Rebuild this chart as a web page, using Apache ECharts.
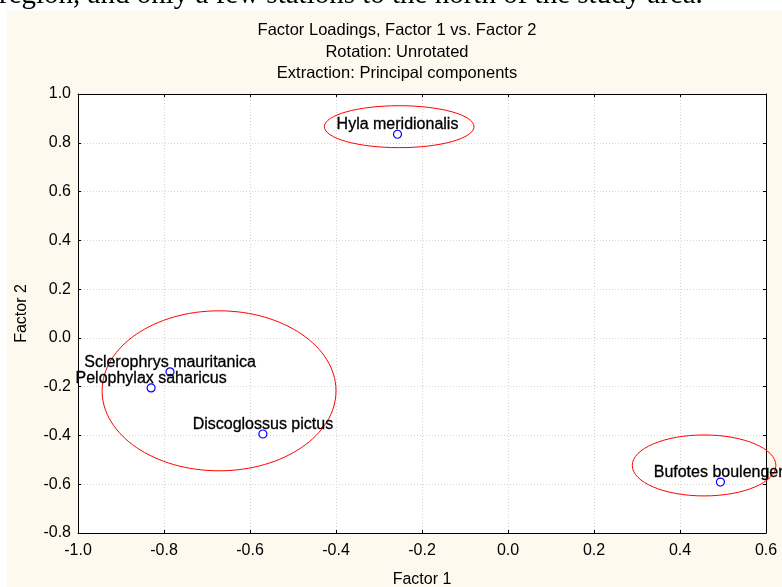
<!DOCTYPE html>
<html><head><meta charset="utf-8">
<script src="https://cdn.jsdelivr.net/npm/echarts@6/dist/echarts.min.js"></script>
<style>
html,body{margin:0;padding:0;background:#fff;}
#wrap{position:relative;width:782px;height:587px;overflow:hidden;}
#bg{position:absolute;left:7px;top:11px;width:775px;height:576px;background:#fdf9ef;}
#c{position:absolute;left:0;top:0;width:782px;height:587px;}
</style>
</head><body>
<div id="wrap"><div id="bg"></div><div id="c"></div></div>
<script>
const speciesNames = ['Hyla meridionalis', 'Sclerophrys mauritanica', 'Pelophylax saharicus', 'Discoglossus pictus', 'Bufotes boulengeri'];
const factor1 = [-0.257, -0.786, -0.830, -0.570, 0.494];
const factor2 = [0.835, -0.139, -0.205, -0.394, -0.591];

const ellipseCx = [-0.253, -0.672, 0.456];
const ellipseCy = [0.866, -0.217, -0.523];
const ellipseRx = [0.174, 0.272, 0.167];
const ellipseRy = [0.086, 0.328, 0.125];

const titleLines = ['Factor Loadings, Factor 1 vs. Factor 2', 'Rotation: Unrotated', 'Extraction: Principal components'];
const xAxisTitle = 'Factor 1';
const yAxisTitle = 'Factor 2';
const captionText = 'region, and only a few stations to the north of the study area.';

const FONT = '"Liberation Sans", Arial, sans-serif';
const chart = echarts.init(document.getElementById('c'), null, {renderer: 'canvas'});

const fmt = v => v.toFixed(1);
const axisCommon = {
  type: 'value',
  axisLine: {show: true, onZero: false, lineStyle: {color: '#000', width: 1}},
  axisTick: {show: true, inside: true, length: 3, lineStyle: {color: '#000'}}
};

chart.setOption({
  animation: false,
  backgroundColor: 'transparent',
  title: {
    text: titleLines.join('\n'),
    left: 392, top: 15, textAlign: 'center',
    textStyle: {fontFamily: FONT, fontSize: 16.5, fontWeight: 'normal', color: '#000', lineHeight: 21.5}
  },
  graphic: [{
    type: 'text', left: -1, top: -19, silent: true,
    style: {text: captionText, font: '29px "Liberation Serif"', fill: '#000'}
  }],
  grid: {left: 78, top: 94, width: 688, height: 439, show: true, backgroundColor: '#fff', borderWidth: 0,
         containLabel: false, outerBoundsMode: 'none'},
  xAxis: [
    Object.assign({}, axisCommon, {
      min: -1, max: 0.6, interval: 0.2, position: 'bottom',
      axisLabel: {formatter: fmt, fontFamily: FONT, fontSize: 16, color: '#000', margin: 10},
      splitLine: {show: true, lineStyle: {color: '#d6d6d6', type: [1, 2], width: 1}},
      name: xAxisTitle, nameLocation: 'middle', nameGap: 39,
      nameTextStyle: {fontFamily: FONT, fontSize: 16, color: '#000'}
    }),
    Object.assign({}, axisCommon, {
      min: -1, max: 0.6, interval: 0.2, position: 'top',
      axisLabel: {show: false}, splitLine: {show: false}
    })
  ],
  yAxis: [
    Object.assign({}, axisCommon, {
      min: -0.8, max: 1.0, interval: 0.2, position: 'left',
      axisLabel: {formatter: fmt, fontFamily: FONT, fontSize: 16, color: '#000', margin: 7},
      splitLine: {show: true, lineStyle: {color: '#d6d6d6', type: [1, 2], width: 1}},
      name: yAxisTitle, nameLocation: 'middle', nameGap: 48, nameRotate: 90,
      nameTextStyle: {fontFamily: FONT, fontSize: 16, color: '#000'}
    }),
    Object.assign({}, axisCommon, {
      min: -0.8, max: 1.0, interval: 0.2, position: 'right',
      axisLabel: {show: false}, splitLine: {show: false}
    })
  ],
  series: [
    {
      type: 'custom',
      xAxisIndex: 0, yAxisIndex: 0,
      silent: true, clip: false,
      data: ellipseCx.map((cx, i) => [cx, ellipseCy[i], ellipseRx[i], ellipseRy[i]]),
      renderItem: function (params, api) {
        const c = api.coord([api.value(0), api.value(1)]);
        const s = api.size([api.value(2), api.value(3)]);
        return {
          type: 'ellipse',
          shape: {cx: c[0], cy: c[1], rx: s[0], ry: s[1]},
          style: {fill: 'none', stroke: '#ff0000', lineWidth: 1}
        };
      }
    },
    {
      type: 'scatter',
      xAxisIndex: 0, yAxisIndex: 0,
      symbol: 'circle', symbolSize: 8,
      itemStyle: {color: '#ffffff', borderColor: '#0000ff', borderWidth: 1.2, opacity: 1},
      label: {show: true, position: 'top', distance: 0, offset: [0, 3], formatter: p => p.name,
              fontFamily: FONT, fontSize: 16, color: '#000000', opacity: 1,
              textBorderColor: '#000000', textBorderWidth: 0.3},
      emphasis: {disabled: true},
      data: speciesNames.map((n, i) => ({name: n, value: [factor1[i], factor2[i]]}))
    }
  ]
});
</script>
</body></html>
